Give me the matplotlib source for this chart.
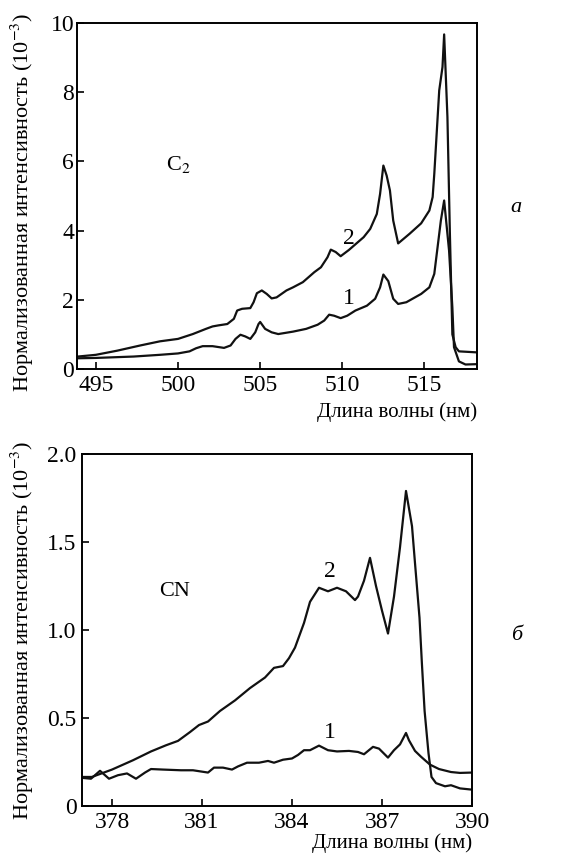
import matplotlib
matplotlib.use("Agg")
import matplotlib.pyplot as plt

plt.rcParams['font.family'] = ['Liberation Serif', 'DejaVu Serif']
plt.rcParams['mathtext.fontset'] = 'stix'

# ---- Panel a: C2 ----
c2_x2 = [493.9, 495.0, 496.3, 497.7, 498.9, 500.0, 500.9, 501.7, 502.1, 502.45, 503.0, 503.4, 503.6,
         503.9, 504.4, 504.6, 504.8, 505.1, 505.4, 505.7, 506.0, 506.6, 507.0, 507.6, 508.3, 508.7,
         509.1, 509.3, 509.6, 509.9, 510.4, 511.3, 511.7, 512.1, 512.3, 512.5, 512.7, 512.9, 513.1,
         513.4, 514.1, 514.8, 515.3, 515.5, 515.6, 515.9, 516.1, 516.2, 516.4, 516.55, 516.7, 516.9,
         517.1, 518.2]
c2_y2 = [0.36, 0.41, 0.53, 0.68, 0.80, 0.87, 1.01, 1.16, 1.23, 1.26, 1.30, 1.45, 1.69,
         1.74, 1.76, 1.93, 2.19, 2.27, 2.17, 2.04, 2.07, 2.27, 2.36, 2.51, 2.80, 2.94,
         3.23, 3.45, 3.38, 3.26, 3.44, 3.81, 4.05, 4.48, 5.06, 5.88, 5.59, 5.16, 4.29,
         3.63, 3.91, 4.21, 4.58, 4.97, 5.64, 8.05, 8.73, 9.67, 7.28, 3.9, 1.0, 0.63,
         0.51, 0.48]
c2_x1 = [493.9, 495.0, 497.3, 498.9, 500.0, 500.7, 501.1, 501.5, 502.1, 502.8, 503.2, 503.5, 503.8,
         504.1, 504.4, 504.7, 504.9, 505.0, 505.3, 505.7, 506.1, 507.0, 507.8, 508.5, 508.9, 509.2,
         509.5, 509.9, 510.3, 510.8, 511.5, 512.0, 512.3, 512.5, 512.8, 513.1, 513.4, 513.9, 514.8,
         515.3, 515.6, 515.8, 516.0, 516.2, 516.5, 516.7, 516.8, 517.1, 517.5, 518.2]
c2_y1 = [0.31, 0.32, 0.36, 0.41, 0.45, 0.51, 0.60, 0.66, 0.66, 0.61, 0.68, 0.87, 0.99,
         0.94, 0.87, 1.06, 1.30, 1.36, 1.16, 1.06, 1.01, 1.08, 1.16, 1.28, 1.40, 1.57,
         1.54, 1.47, 1.54, 1.69, 1.83, 2.03, 2.36, 2.73, 2.54, 2.03, 1.88, 1.93, 2.17,
         2.36, 2.75, 3.52, 4.29, 4.87, 3.42, 1.78, 0.63, 0.22, 0.13, 0.14]

# ---- Panel б: CN ----
cn_x2 = [377.0, 377.33, 378.0, 378.7, 379.3, 379.8, 380.2, 380.6, 380.9, 381.2, 381.6, 382.1, 382.6,
         383.1, 383.4, 383.7, 383.9, 384.1, 384.4, 384.6, 384.9, 385.2, 385.5, 385.8, 386.1, 386.2,
         386.4, 386.6, 386.8, 387.0, 387.2, 387.4, 387.6, 387.8, 388.0, 388.1, 388.25, 388.33, 388.42,
         388.55, 388.65, 388.8, 389.1, 389.3, 389.6, 390.0]
cn_y2 = [0.165, 0.165, 0.207, 0.26, 0.31, 0.345, 0.37, 0.42, 0.46, 0.48, 0.54, 0.60, 0.67,
         0.73, 0.785, 0.795, 0.84, 0.90, 1.04, 1.16, 1.24, 1.22, 1.24, 1.22, 1.17, 1.19,
         1.28, 1.41, 1.25, 1.11, 0.98, 1.19, 1.47, 1.79, 1.59, 1.38, 1.07, 0.81, 0.54,
         0.30, 0.165, 0.13, 0.112, 0.118, 0.10, 0.093]
cn_x1 = [377.0, 377.3, 377.6, 377.9, 378.2, 378.5, 378.8, 379.1, 379.3, 379.7, 380.3, 380.7, 381.2,
         381.4, 381.7, 382.0, 382.2, 382.5, 382.9, 383.2, 383.4, 383.7, 384.0, 384.2, 384.4, 384.6,
         384.9, 385.2, 385.5, 385.9, 386.2, 386.4, 386.7, 386.9, 387.2, 387.4, 387.6, 387.8, 387.9,
         388.1, 388.3, 388.6, 388.9, 389.3, 389.6, 390.0]
cn_y1 = [0.16, 0.155, 0.20, 0.155, 0.175, 0.185, 0.155, 0.19, 0.21, 0.207, 0.203, 0.203, 0.19,
         0.218, 0.218, 0.207, 0.225, 0.246, 0.246, 0.256, 0.246, 0.263, 0.27, 0.29, 0.317, 0.317,
         0.343, 0.317, 0.31, 0.313, 0.307, 0.294, 0.336, 0.326, 0.275, 0.317, 0.35, 0.415, 0.373,
         0.313, 0.28, 0.235, 0.21, 0.193, 0.188, 0.19]

top_xticks = [495, 500, 505, 510, 515]
top_yticks = [0, 2, 4, 6, 8, 10]
bot_xticks = [378, 381, 384, 387, 390]
bot_yticks = [0, 0.5, 1.0, 1.5, 2.0]
bot_ylabels = ['0', '0.5', '1.0', '1.5', '2.0']

W, H = 566, 859
fig = plt.figure(figsize=(W / 100, H / 100), dpi=100)

FS = 15
TFS = 17
YFS = 16
ylab = 'Нормализованная интенсивность (10$^{-3}$)'
xlab = 'Длина волны (нм)'


def style(ax):
    for s in ax.spines.values():
        s.set_linewidth(1.4)
    ax.tick_params(direction='in', length=5, width=1.2, labelsize=TFS, top=False, right=False)


ax1 = fig.add_axes([77 / W, 1 - 369 / H, 400 / W, 346 / H])
ax1.plot(c2_x2, c2_y2, color='#111111', lw=1.6)
ax1.plot(c2_x1, c2_y1, color='#111111', lw=1.6)
ax1.set_xlim(493.85, 518.2)
ax1.set_ylim(0, 10)
ax1.set_xticks(top_xticks)
ax1.set_yticks(top_yticks)
style(ax1)
ax1.tick_params(axis='x', pad=4)
ax1.tick_params(axis='y', pad=2)
ax1.text(500.0, 5.9, 'C$_2$', fontsize=16, ha='center', va='center')
ax1.text(510.4, 3.76, '2', fontsize=TFS, ha='center', va='center')
ax1.text(510.4, 2.05, '1', fontsize=TFS, ha='center', va='center')

ax2 = fig.add_axes([82 / W, 1 - 806 / H, 390 / W, 352 / H])
ax2.plot(cn_x2, cn_y2, color='#111111', lw=1.6)
ax2.plot(cn_x1, cn_y1, color='#111111', lw=1.6)
ax2.set_xlim(377, 390)
ax2.set_ylim(0, 2.0)
ax2.set_xticks(bot_xticks)
ax2.set_yticks(bot_yticks)
ax2.set_yticklabels(bot_ylabels)
style(ax2)
ax2.tick_params(axis='x', pad=4)
ax2.tick_params(axis='y', pad=4)
ax2.text(380.1, 1.22, 'CN', fontsize=16, ha='center', va='center')
ax2.text(385.27, 1.33, '2', fontsize=TFS, ha='center', va='center')
ax2.text(385.27, 0.42, '1', fontsize=TFS, ha='center', va='center')

fig.text(477 / W, 1 - 412 / H, xlab, fontsize=FS, ha='right', va='center')
fig.text(472 / W, 1 - 843 / H, xlab, fontsize=FS, ha='right', va='center')
fig.text(22 / W, 1 - 203 / H, ylab, fontsize=YFS, rotation=90, ha='center', va='center')
fig.text(22 / W, 1 - 631 / H, ylab, fontsize=YFS, rotation=90, ha='center', va='center')
fig.text(516 / W, 1 - 207 / H, 'а', fontsize=16, style='italic', ha='center', va='center')
fig.text(517 / W, 1 - 636 / H, 'б', fontsize=16, style='italic', ha='center', va='center')

fig.savefig('out.png', dpi=100)
